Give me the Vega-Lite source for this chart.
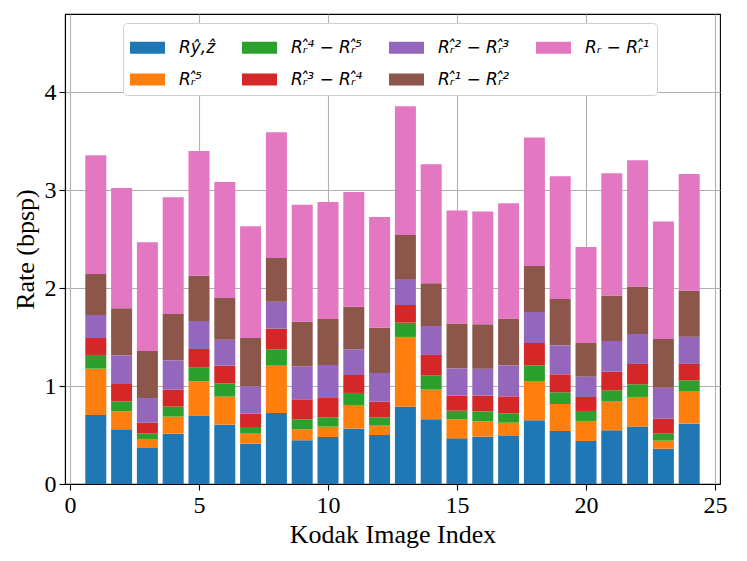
{
  "$schema": "https://vega.github.io/schema/vega-lite/v6.json",
  "width": 655,
  "height": 470,
  "autosize": {"type": "none"},
  "padding": {"left": 65, "top": 14, "right": 27, "bottom": 77},
  "background": "white",
  "config": {
    "view": {"stroke": "black", "strokeWidth": 1.1},
    "axis": {
      "labelFont": "Liberation Serif",
      "titleFont": "Liberation Serif",
      "labelFontSize": 24,
      "titleFontSize": 26,
      "titleFontWeight": "normal",
      "labelColor": "black",
      "titleColor": "black",
      "domainColor": "black",
      "domainWidth": 1.1,
      "tickColor": "black",
      "tickWidth": 1.1,
      "tickSize": 6,
      "gridColor": "#b0b0b0",
      "gridWidth": 1.1
    }
  },
  "data": {
    "values": [
      {"img": 1, "s1": 0.705, "s2": 0.473, "s3": 0.140, "s4": 0.173, "s5": 0.235, "s6": 0.419, "s7": 1.212},
      {"img": 2, "s1": 0.558, "s2": 0.184, "s3": 0.102, "s4": 0.177, "s5": 0.293, "s6": 0.480, "s7": 1.229},
      {"img": 3, "s1": 0.368, "s2": 0.092, "s3": 0.058, "s4": 0.108, "s5": 0.252, "s6": 0.481, "s7": 1.110},
      {"img": 4, "s1": 0.514, "s2": 0.174, "s3": 0.102, "s4": 0.174, "s5": 0.299, "s6": 0.473, "s7": 1.192},
      {"img": 5, "s1": 0.695, "s2": 0.354, "s3": 0.139, "s4": 0.191, "s5": 0.286, "s6": 0.463, "s7": 1.273},
      {"img": 6, "s1": 0.606, "s2": 0.286, "s3": 0.136, "s4": 0.181, "s5": 0.265, "s6": 0.426, "s7": 1.185},
      {"img": 7, "s1": 0.412, "s2": 0.102, "s3": 0.068, "s4": 0.136, "s5": 0.280, "s6": 0.493, "s7": 1.141},
      {"img": 8, "s1": 0.725, "s2": 0.484, "s3": 0.167, "s4": 0.211, "s5": 0.275, "s6": 0.446, "s7": 1.284},
      {"img": 9, "s1": 0.446, "s2": 0.112, "s3": 0.103, "s4": 0.204, "s5": 0.337, "s6": 0.456, "s7": 1.195},
      {"img": 10, "s1": 0.480, "s2": 0.106, "s3": 0.095, "s4": 0.197, "s5": 0.338, "s6": 0.469, "s7": 1.195},
      {"img": 11, "s1": 0.565, "s2": 0.242, "s3": 0.123, "s4": 0.183, "s5": 0.263, "s6": 0.435, "s7": 1.172},
      {"img": 12, "s1": 0.500, "s2": 0.096, "s3": 0.085, "s4": 0.160, "s5": 0.293, "s6": 0.463, "s7": 1.130},
      {"img": 13, "s1": 0.790, "s2": 0.712, "s3": 0.146, "s4": 0.180, "s5": 0.259, "s6": 0.456, "s7": 1.315},
      {"img": 14, "s1": 0.661, "s2": 0.303, "s3": 0.143, "s4": 0.211, "s5": 0.296, "s6": 0.436, "s7": 1.215},
      {"img": 15, "s1": 0.466, "s2": 0.195, "s3": 0.088, "s4": 0.153, "s5": 0.279, "s6": 0.457, "s7": 1.154},
      {"img": 16, "s1": 0.483, "s2": 0.157, "s3": 0.102, "s4": 0.160, "s5": 0.276, "s6": 0.453, "s7": 1.151},
      {"img": 17, "s1": 0.490, "s2": 0.136, "s3": 0.096, "s4": 0.173, "s5": 0.317, "s6": 0.477, "s7": 1.178},
      {"img": 18, "s1": 0.650, "s2": 0.402, "s3": 0.160, "s4": 0.228, "s5": 0.317, "s6": 0.470, "s7": 1.311},
      {"img": 19, "s1": 0.541, "s2": 0.276, "s3": 0.119, "s4": 0.184, "s5": 0.296, "s6": 0.474, "s7": 1.253},
      {"img": 20, "s1": 0.439, "s2": 0.205, "s3": 0.102, "s4": 0.143, "s5": 0.207, "s6": 0.344, "s7": 0.981},
      {"img": 21, "s1": 0.548, "s2": 0.293, "s3": 0.116, "s4": 0.190, "s5": 0.314, "s6": 0.463, "s7": 1.249},
      {"img": 22, "s1": 0.586, "s2": 0.303, "s3": 0.129, "s4": 0.208, "s5": 0.306, "s6": 0.484, "s7": 1.290},
      {"img": 23, "s1": 0.361, "s2": 0.082, "s3": 0.071, "s4": 0.153, "s5": 0.317, "s6": 0.497, "s7": 1.199},
      {"img": 24, "s1": 0.616, "s2": 0.334, "s3": 0.109, "s4": 0.167, "s5": 0.279, "s6": 0.470, "s7": 1.191}
    ]
  },
  "transform": [
    {"fold": ["s1", "s2", "s3", "s4", "s5", "s6", "s7"], "as": ["part", "rate"]}
  ],
  "mark": {"type": "bar", "width": 21},
  "encoding": {
    "x": {
      "field": "img",
      "type": "quantitative",
      "scale": {"domain": [0, 25], "nice": false},
      "axis": {
        "values": [0, 5, 10, 15, 20, 25],
        "labelFont": "Liberation Serif",
        "labelFontSize": 24,
        "labelPadding": 3,
        "titlePadding": 4
      },
      "title": "Kodak Image Index"
    },
    "y": {
      "field": "rate",
      "type": "quantitative",
      "stack": "zero",
      "scale": {"domain": [0, 4.8], "nice": false},
      "axis": {
        "values": [0, 1, 2, 3, 4],
        "labelFont": "Liberation Serif",
        "labelFontSize": 24,
        "labelPadding": 3,
        "titlePadding": 6
      },
      "title": "Rate (bpsp)"
    },
    "order": {"field": "part", "sort": "ascending"},
    "color": {
      "field": "part",
      "type": "nominal",
      "scale": {
        "domain": ["s1", "s2", "s3", "s4", "s5", "s6", "s7"],
        "range": ["#1f77b4", "#ff7f0e", "#2ca02c", "#d62728", "#9467bd", "#8c564b", "#e377c2"]
      },
      "legend": {
        "title": null,
        "orient": "none",
        "legendX": 58,
        "legendY": 9,
        "columns": 4,
        "fillColor": "white",
        "strokeColor": "#d0d0d0",
        "cornerRadius": 4,
        "padding": 7,
        "symbolType": "M-1,-0.343L1,-0.343L1,0.343L-1,0.343Z",
        "symbolSize": 1225,
        "symbolStrokeWidth": 0,
        "labelFont": "DejaVu Sans",
        "labelFontStyle": "italic",
        "labelFontSize": 17,
        "labelColor": "black",
        "labelOffset": 14,
        "labelLimit": 200,
        "columnPadding": 26,
        "rowPadding": 6,
        "labelExpr": "datum.value == 's1' ? 'Rŷ,ẑ' : datum.value == 's2' ? 'Rᵣ̂⁵' : datum.value == 's3' ? 'Rᵣ̂⁴ − Rᵣ̂⁵' : datum.value == 's4' ? 'Rᵣ̂³ − Rᵣ̂⁴' : datum.value == 's5' ? 'Rᵣ̂² − Rᵣ̂³' : datum.value == 's6' ? 'Rᵣ̂¹ − Rᵣ̂²' : 'Rᵣ − Rᵣ̂¹'"
      }
    },
    "tooltip": [
      {"field": "img", "type": "quantitative", "title": "Image"},
      {"field": "part", "type": "nominal"},
      {"field": "rate", "type": "quantitative", "format": ".3f"}
    ]
  }
}
